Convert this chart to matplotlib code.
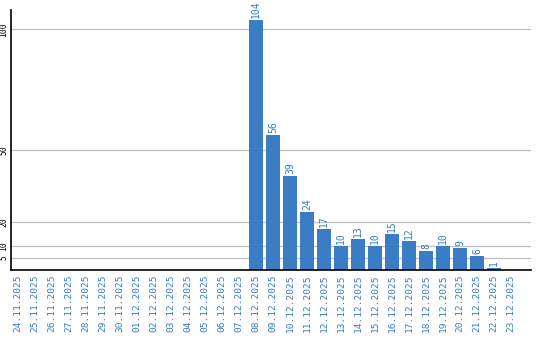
import matplotlib
matplotlib.use("Agg")
import matplotlib.pyplot as plt

dates = ["24.11.2025", "25.11.2025", "26.11.2025", "27.11.2025", "28.11.2025",
         "29.11.2025", "30.11.2025", "01.12.2025", "02.12.2025", "03.12.2025",
         "04.12.2025", "05.12.2025", "06.12.2025", "07.12.2025", "08.12.2025",
         "09.12.2025", "10.12.2025", "11.12.2025", "12.12.2025", "13.12.2025",
         "14.12.2025", "15.12.2025", "16.12.2025", "17.12.2025", "18.12.2025",
         "19.12.2025", "20.12.2025", "21.12.2025", "22.12.2025", "23.12.2025"]
counts = [0, 0, 0, 0, 0, 0, 0, 0, 0, 0, 0, 0, 0, 0, 104,
          56, 39, 24, 17, 10, 13, 10, 15, 12, 8, 10, 9, 6, 1, 0]
yticks = [5, 10, 20, 50, 100]

blue = "#3a7dc4"

fig = plt.figure(figsize=(5.4, 3.4), dpi=100)
ax = fig.add_axes([11 / 540, 70 / 340, 520 / 540, 260 / 340])

x = list(range(len(dates)))
ax.bar(x, counts, width=0.82, color=blue, zorder=2)

for i, v in enumerate(counts):
    if v > 0:
        ax.text(i, v + 0.8, str(v), rotation=90, ha="center", va="bottom",
                color=blue, fontsize=7, family="DejaVu Sans Mono")

ax.set_xlim(-0.41, 30.18)
ax.set_ylim(0, 108)
ax.set_yticks(yticks)
ax.set_yticklabels([str(t) for t in yticks], rotation=90, va="center",
                   fontsize=5.8, family="DejaVu Sans Mono")
ax.set_xticks(x)
ax.set_xticklabels(dates, rotation=90, color=blue, fontsize=6.8,
                   family="DejaVu Sans Mono")
ax.tick_params(axis="both", length=0, pad=3)
ax.tick_params(axis="y", pad=2)

ax.grid(axis="y", color="#c4c4c4", linewidth=1, zorder=0)
ax.spines["top"].set_visible(False)
ax.spines["right"].set_visible(False)
ax.spines["left"].set_linewidth(1.2)
ax.spines["bottom"].set_linewidth(1.2)

fig.savefig("out.png", dpi=100)
